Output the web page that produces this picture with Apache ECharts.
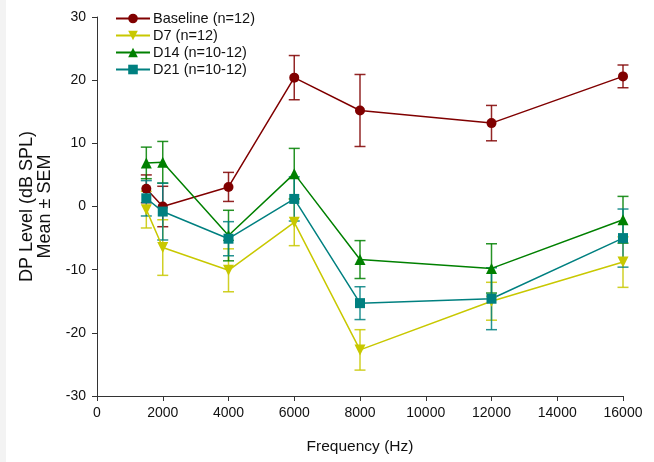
<!DOCTYPE html>
<html>
<head>
<meta charset="utf-8">
<script src="https://cdn.jsdelivr.net/npm/echarts@6/dist/echarts.min.js"></script>
<style>html,body{margin:0;padding:0;background:#fff;}#c{width:654px;height:462px;}</style>
</head>
<body>
<div id="c"></div>
<script>
var freqs = [1500, 2000, 4000, 6000, 8000, 12000, 16000];
var baselineMean = [2.8, 0.0, 3.1, 20.4, 15.2, 13.2, 20.6];
var baselineSem  = [2.2, 3.2, 2.3, 3.5, 5.7, 2.8, 1.8];
var d7Mean  = [-0.5, -6.5, -10.1, -2.5, -22.7, -15.0, -8.8];
var d7Sem   = [2.9, 4.4, 3.4, 3.7, 3.2, 3.0, 4.0];
var d14Mean = [6.9, 7.0, -4.6, 5.2, -8.4, -9.8, -2.1];
var d14Sem  = [2.5, 3.3, 4.0, 4.0, 3.0, 3.9, 3.7];
var d21Mean = [1.3, -0.8, -5.1, 1.2, -15.3, -14.6, -5.0];
var d21Sem  = [2.8, 4.5, 2.7, 3.5, 2.6, 4.9, 4.6];
var xTicks = [0, 2000, 4000, 6000, 8000, 10000, 12000, 14000, 16000];
var yTicks = [-30, -20, -10, 0, 10, 20, 30];

var groups = [
  {name: 'Baseline (n=12)', mean: baselineMean, sem: baselineSem, color: '#800000', symbol: 'circle', size: 10, rot: 0},
  {name: 'D7 (n=12)', mean: d7Mean, sem: d7Sem, color: '#c8c800', symbol: 'triangle', size: 11, rot: 180},
  {name: 'D14 (n=10-12)', mean: d14Mean, sem: d14Sem, color: '#008000', symbol: 'triangle', size: 11, rot: 0},
  {name: 'D21 (n=10-12)', mean: d21Mean, sem: d21Sem, color: '#008080', symbol: 'rect', size: 10, rot: 0}
];

var series = [];
groups.forEach(function (g) {
  var errData = freqs.map(function (f, i) { return [f, g.mean[i] - g.sem[i], g.mean[i] + g.sem[i]]; });
  series.push({
    type: 'custom',
    name: g.name + '_err',
    z: 1,
    silent: true,
    encode: {x: 0, y: [1, 2]},
    data: errData,
    renderItem: function (params, api) {
      var x = api.value(0);
      var lo = api.coord([x, api.value(1)]);
      var hi = api.coord([x, api.value(2)]);
      var hw = 5.5;
      var st = {stroke: g.color, lineWidth: 1.5, opacity: 0.85};
      return {
        type: 'group',
        children: [
          {type: 'line', shape: {x1: lo[0], y1: lo[1], x2: hi[0], y2: hi[1]}, style: st},
          {type: 'line', shape: {x1: lo[0] - hw, y1: lo[1], x2: lo[0] + hw, y2: lo[1]}, style: st},
          {type: 'line', shape: {x1: hi[0] - hw, y1: hi[1], x2: hi[0] + hw, y2: hi[1]}, style: st}
        ]
      };
    }
  });
});
groups.forEach(function (g) {
  series.push({
    type: 'line',
    name: g.name,
    z: 3,
    data: freqs.map(function (f, i) { return [f, g.mean[i]]; }),
    symbol: g.symbol,
    symbolSize: g.size,
    symbolRotate: g.rot,
    showAllSymbol: true,
    lineStyle: {color: g.color, width: 1.5},
    itemStyle: {color: g.color, borderWidth: 0},
    emphasis: {disabled: true},
    animation: false
  });
});

var chart = echarts.init(document.getElementById('c'), null, {renderer: 'canvas'});
chart.setOption({
  animation: false,
  backgroundColor: '#ffffff',
  textStyle: {fontFamily: 'Liberation Sans, Arial, sans-serif'},
  graphic: [{type: 'rect', left: 0, top: 0, shape: {width: 6, height: 462}, style: {fill: '#f3f3f3'}, silent: true}],
  grid: {left: 97, right: 31, top: 17, bottom: 66, containLabel: false},
  legend: {
    data: groups.map(function (g) { return g.name; }),
    orient: 'vertical',
    left: 110,
    top: 6,
    itemGap: 2,
    itemWidth: 34,
    itemHeight: 12,
    textStyle: {fontSize: 14.5, color: '#111', fontFamily: 'Liberation Sans, Arial, sans-serif', padding: [0, 0, 0, -2]},
    selectedMode: false
  },
  xAxis: {
    type: 'value',
    min: xTicks[0],
    max: xTicks[xTicks.length - 1],
    interval: 2000,
    name: 'Frequency (Hz)',
    nameLocation: 'middle',
    nameGap: 43,
    nameTextStyle: {fontSize: 15.5, color: '#111'},
    axisLine: {onZero: false, lineStyle: {color: '#333', width: 1}},
    axisTick: {show: true, inside: false, length: 5, lineStyle: {color: '#333'}},
    axisLabel: {fontSize: 14, color: '#111', margin: 10, formatter: function (v) { return String(v); }},
    splitLine: {show: false}
  },
  yAxis: {
    type: 'value',
    min: yTicks[0],
    max: yTicks[yTicks.length - 1],
    interval: 10,
    name: 'DP Level (dB SPL)\nMean \u00b1 SEM',
    nameLocation: 'middle',
    nameGap: 43,
    nameRotate: 90,
    nameTextStyle: {fontSize: 18, color: '#111', lineHeight: 18},
    axisLine: {show: true, onZero: false, lineStyle: {color: '#333', width: 1}},
    axisTick: {show: true, inside: false, length: 5, lineStyle: {color: '#333'}},
    axisLabel: {fontSize: 14, color: '#111', margin: 11, formatter: function (v) { return String(v); }},
    splitLine: {show: false}
  },
  series: series
});
</script>
</body>
</html>
